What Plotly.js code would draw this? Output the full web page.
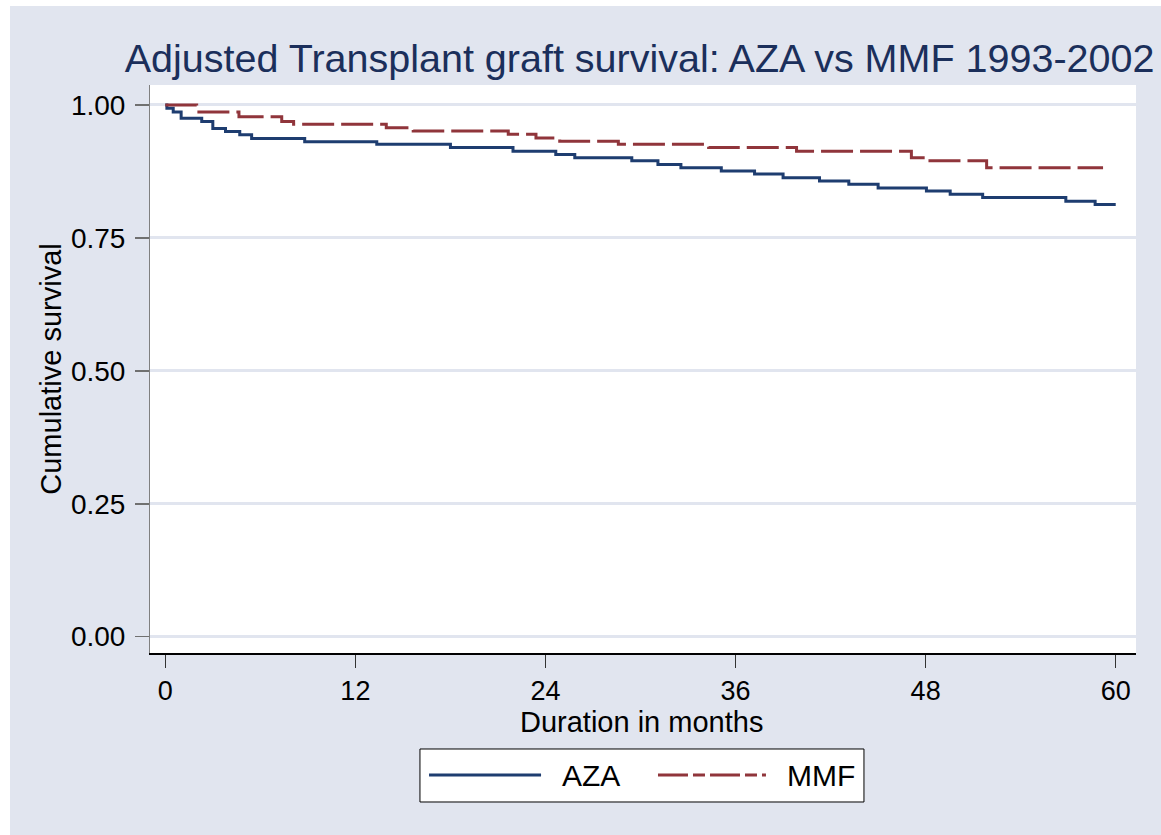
<!DOCTYPE html>
<html>
<head>
<meta charset="utf-8">
<script src="https://cdn.plot.ly/plotly-3.0.1.min.js"></script>
<style>
  body { margin: 0; background: #ffffff; }
  #survPlot { position: absolute; left: 10px; top: 6px; width: 1151px; height: 829px; }
</style>
</head>
<body>
<div id="survPlot"></div>
<script>
// Kaplan-Meier style step curves
var azaMonths = [0, 0.1, 0.5, 1.0, 2.3, 3.0, 3.8, 4.7, 5.45, 8.8, 13.35, 18.0, 21.95, 24.65, 25.85,
                 29.45, 31.1, 32.55, 35.1, 37.2, 39.0, 41.3, 43.15, 45.0, 48.05, 49.55, 51.6, 56.85, 58.7, 60];
var azaSurv = [1.0, 0.994, 0.987, 0.975, 0.969, 0.956, 0.950, 0.944, 0.937, 0.931, 0.926, 0.920, 0.913, 0.907, 0.901,
               0.895, 0.888, 0.882, 0.876, 0.870, 0.863, 0.857, 0.851, 0.844, 0.838, 0.832, 0.826, 0.819, 0.813, 0.813];

var mmfMonths = [0, 1.98, 4.65, 7.35, 8.1, 13.95, 15.65, 21.65, 23.4, 24.9, 28.6, 34.3, 39.85, 47.1, 48.15, 51.85, 59.2];
var mmfSurv = [1.0, 0.987, 0.978, 0.969, 0.964, 0.957, 0.951, 0.945, 0.938, 0.932, 0.926, 0.920, 0.913, 0.901, 0.895, 0.882, 0.882];

var xTicks = [0, 12, 24, 36, 48, 60];
var yTicks = [0, 0.25, 0.5, 0.75, 1];
var seriesNames = ['AZA', 'MMF'];

var navy = '#1e3d70';
var maroon = '#90353b';
var bgCol = '#e1e5ef';
var fontFam = 'Liberation Sans, Arial, sans-serif';
var mmfDash = '32px,7px';

function drawSurvival() {
  var data = [{
    x: azaMonths,
    y: azaSurv,
    name: seriesNames[0],
    type: 'scatter',
    mode: 'lines',
    line: {color: navy, width: 3, shape: 'hv'}
  }, {
    x: mmfMonths,
    y: mmfSurv,
    name: seriesNames[1],
    type: 'scatter',
    mode: 'lines',
    line: {color: maroon, width: 3, shape: 'hv', dash: mmfDash}
  }];

  var layout = {
    width: 1151,
    height: 829,
    margin: {l: 140, r: 25, t: 79, b: 182},
    paper_bgcolor: bgCol,
    plot_bgcolor: '#ffffff',
    showlegend: false,
    font: {family: fontFam, size: 28, color: '#000000'},
    title: {
      text: 'Adjusted Transplant graft survival: AZA vs MMF 1993-2002',
      font: {family: fontFam, size: 39.5, color: '#1b2f5b'},
      xref: 'container', yref: 'container',
      x: 0.547, xanchor: 'center',
      y: 0.937, yanchor: 'middle'
    },
    xaxis: {
      range: [-0.966, 61.28],
      tickvals: xTicks,
      ticktext: xTicks.map(String),
      showgrid: false,
      zeroline: false,
      showline: true,
      linecolor: '#000000',
      linewidth: 1.5,
      ticks: 'outside',
      ticklen: 13,
      tickwidth: 1.5,
      tickcolor: '#333333',
      ticklabelstandoff: 0,
      tickfont: {family: fontFam, size: 27, color: '#000000'},
      fixedrange: true
    },
    yaxis: {
      range: [-0.0307, 1.0376],
      tickvals: yTicks,
      tickformat: '.2f',
      showgrid: true,
      gridcolor: bgCol,
      gridwidth: 3,
      zeroline: false,
      showline: true,
      linecolor: '#808080',
      linewidth: 1,
      ticks: 'outside',
      ticklen: 14,
      tickwidth: 1.5,
      tickcolor: '#707070',
      ticklabelstandoff: 4,
      tickfont: {family: fontFam, size: 28, color: '#000000'},
      title: {text: 'Cumulative survival', standoff: 0,
              font: {family: fontFam, size: 29, color: '#000000'}},
      fixedrange: true
    },
    // Stata-style legend box below the plot
    shapes: [
      {type: 'rect', xref: 'paper', yref: 'paper', x0: 0.2738, x1: 0.7241, y0: -0.2623, y1: -0.1690,
       line: {color: '#000000', width: 1}, fillcolor: '#ffffff', layer: 'above'},
      {type: 'line', xref: 'paper', yref: 'paper', x0: 0.2830, x1: 0.3966, y0: -0.2148, y1: -0.2148,
       line: {color: navy, width: 3}},
      {type: 'line', xref: 'paper', yref: 'paper', x0: 0.5152, x1: 0.6247, y0: -0.2148, y1: -0.2148,
       line: {color: maroon, width: 3, dash: '30px,5px,12px,5px'}}
    ],
    annotations: [
      {xref: 'paper', yref: 'paper', x: 0.498, y: -0.1215, xanchor: 'center', yanchor: 'middle',
       text: 'Duration in months', showarrow: false, font: {family: fontFam, size: 29, color: '#000000'}},
      {xref: 'paper', yref: 'paper', x: 0.4158, y: -0.2148, xanchor: 'left', yanchor: 'middle',
       text: seriesNames[0], showarrow: false, font: {family: fontFam, size: 30, color: '#000000'}},
      {xref: 'paper', yref: 'paper', x: 0.6440, y: -0.2148, xanchor: 'left', yanchor: 'middle',
       text: seriesNames[1], showarrow: false, font: {family: fontFam, size: 30, color: '#000000'}}
    ]
  };

  var config = {displayModeBar: false, staticPlot: true};
  Plotly.newPlot('survPlot', data, layout, config);
}

drawSurvival();
</script>
</body>
</html>
